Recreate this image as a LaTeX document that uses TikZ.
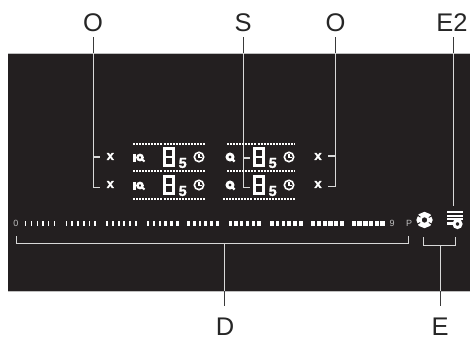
\documentclass[tikz,border=0pt]{standalone}
\usepackage{fontspec}
\setmainfont{Liberation Sans}
\newfontfamily\heavyfont[FakeBold=1.6]{Liberation Sans Bold}
\newfontfamily\heavyslant[FakeBold=1.6,FakeSlant=0.05]{Liberation Sans Bold}
\definecolor{panel}{HTML}{231F20}
\definecolor{lead}{HTML}{3A3A3A}
\definecolor{leadin}{HTML}{D8D8D8}
\begin{document}
\begin{tikzpicture}[x=1pt,y=-1pt,
  lab/.style={inner sep=0pt,anchor=base,font=\fontsize{25.5}{25.5}\selectfont,text=black!85},
  outer/.style={draw=lead,line width=0.9pt},
  inner/.style={draw=leadin,line width=0.9pt},
  sym/.style={inner sep=0pt,text=white,font=\fontsize{13}{13}\heavyfont},
  five/.style={inner sep=0pt,text=white,font=\fontsize{14.5}{14.5}\heavyslant},
  scale mark/.style={inner sep=0pt,text=black!25,font=\fontsize{9}{9}\selectfont},
  dotrow/.style={draw=white,line width=2.2pt,dash pattern=on 2pt off 1.05pt},
  seg/.style={draw=white,line width=2.9pt},
  clockface/.style={draw=white,line width=1.6pt},
  thickline/.style={draw=white,line width=2pt}]
\useasboundingbox (0,0) rectangle (470,337);
\fill[panel] (8,53) rectangle (470,291);
\draw[black!25,line width=0.6pt] (8,53) -- (470,53);
\draw[black!25,line width=0.6pt] (8,291) -- (470,291);
% labels
\node[lab] (O1) at (93,31) {O};
\node[lab] (S) at (243,31) {S};
\node[lab] (O2) at (335.5,31) {O};
\node[lab] (E2) at (452,31) {E2};
\node[lab] (D) at (225,335.5) {D};
\node[lab] (E) at (440,335.5) {E};
% coordinates
\coordinate (o1t) at (93.3,37); \coordinate (o1p) at (93.3,53); \coordinate (o1b) at (93.3,187);
\coordinate (st) at (243.3,37); \coordinate (sp) at (243.3,53); \coordinate (sb) at (243.3,187);
\coordinate (o2t) at (335.7,37); \coordinate (o2p) at (335.7,53); \coordinate (o2b) at (335.7,186);
\coordinate (e2t) at (453,37); \coordinate (e2p) at (453,53); \coordinate (e2b) at (453,206);
\coordinate (dt) at (224.5,243); \coordinate (dp) at (224.5,291); \coordinate (db) at (224.5,306);
\coordinate (et) at (440,245); \coordinate (ep) at (440,291); \coordinate (eb) at (440,306);
% leaders
\draw[outer] (o1t) -- (o1p); \draw[outer] (st) -- (sp); \draw[outer] (o2t) -- (o2p); \draw[outer] (e2t) -- (e2p);
\draw[outer] (dp) -- (db); \draw[outer] (ep) -- (eb);
\draw[inner] (o1p) -- (o1b) -- (100,187);
\draw[inner,line width=1.2pt] (93.3,157) -- (100,157);
\draw[inner] (sp) -- (sb) -- (250,187);
\draw[inner,line width=1.2pt] (243.3,158) -- (250,158);
\draw[inner] (o2p) -- (o2b) -- (328,186);
\draw[inner,line width=1.2pt] (335.7,156) -- (328,156);
\draw[inner] (e2p) -- (e2b);
\draw[inner] (16,236) -- (16,243) -- (408,243) -- (408,236);
\draw[inner] (dt) -- (dp);
\draw[inner] (423,237) -- (423,245) -- (455,245) -- (455,237);
\draw[inner] (et) -- (ep);
% dotted rows
\foreach \y in {143.7,171.3,199.3} \draw[dotrow] (133,\y) -- (205,\y);
\foreach \y in {143.7,171.3} \draw[dotrow] (227,\y) -- (295,\y);
\draw[dotrow] (223,199.3) -- (295,199.3);
% digit, five, clock, x and icons
\foreach \y [count=\r] in {147,175} {
  \foreach \dx in {164.5,254.5} {
    \draw[seg] (\dx,\y+1.4) rectangle (\dx+9,\y+18.6) (\dx,\y+10) -- (\dx+9,\y+10);
  }
  \node[five] (fa\r) at (182.5,\y+16) {5};
  \node[five] (fb\r) at (272.5,\y+16) {5};
  \foreach \cx in {199,289} {
    \draw[clockface] (\cx,\y+10) circle (4.7);
    \draw[draw=white,line width=1.1pt] (\cx,\y+7) -- (\cx,\y+10.3) -- (\cx+3,\y+10.3);
  }
  \node[sym] (xa\r) at (110.3,\y+9.5) {x};
  \node[sym] (xb\r) at (318,\y+9.5) {x};
  % IQ icon
  \fill[white] (133,\y+6.5) rectangle (135.8,\y+14.5);
  \draw[draw=white,line width=2.4pt] (140,\y+10.5) circle (2.6);
  \draw[draw=white,line width=2pt] (141,\y+11.5) -- (144.5,\y+14.5);
  % Q icon
  \draw[draw=white,line width=2.8pt] (230,\y+10) circle (3);
  \draw[draw=white,line width=2.2pt] (231.5,\y+11.5) -- (234.5,\y+14.5);
}
% slider
\node[scale mark] (zero) at (16,223) {0};
\node[scale mark] (nine) at (392,223) {9};
\node[scale mark] (pp) at (409,223) {P};
\foreach \g [count=\i from 0] in {25,65.5,106,147,187,228.5,270,311,351.5} {
  \foreach \t in {0,...,5} {
    \pgfmathsetmacro{\wd}{1.2+3.6*(\i*6+\t)/53}
    \pgfmathsetmacro{\xs}{\g+\t*5.75}
    \fill[white] (\xs,220.5) rectangle (\xs+\wd,226);
  }
}
% settings icon
\draw[draw=white,line width=5pt] (424.5,220) circle (5.5);
\foreach \a in {30,150,215,330} \draw[draw=panel,line width=0.9pt] (424.5,220) ++(\a:5) -- ++(\a:4);
% timer/list icon
\draw[thickline] (447,212) -- (463,212);
\draw[thickline] (447,215.5) -- (463,215.5);
\draw[thickline] (447,219) -- (463,219);
\draw[draw=white,line width=3pt] (457.5,224) circle (3.5);
\draw[draw=white,line width=3pt] (447,223.5) -- (453,223.5);
\end{tikzpicture}
\end{document}
